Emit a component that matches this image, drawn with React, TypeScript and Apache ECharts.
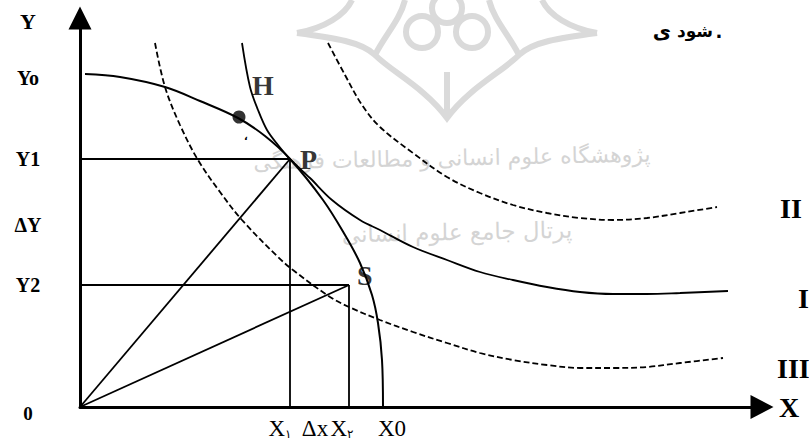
import React, { useEffect, useRef } from "react";
import * as echarts from "echarts";

// Data space: x 0..682, y 0..389 (origin at the axes' corner)
const ppfCurve: number[][] = [
  [5, 333], [40, 330], [85, 320], [120, 306], [158, 289], [185, 271], [210, 248],
  [243, 207], [265, 172], [280, 144], [292, 112], [298, 84], [302, 47], [303, 0],
];
const curveI: number[][] = [
  [162, 364], [170, 320], [178, 297], [187, 277], [198, 262], [210, 248], [230, 229],
  [252, 207], [280, 187], [300, 177], [333, 160], [367, 147], [400, 135], [433, 127],
  [467, 120], [500, 115], [533, 113], [567, 113], [600, 114], [648, 116],
];
const curveII: number[][] = [
  [248, 364], [265, 332], [282, 302], [300, 280], [333, 254], [367, 230], [400, 214],
  [433, 202], [467, 194], [500, 189], [533, 187], [567, 189], [600, 194], [637, 200],
];
const curveIII: number[][] = [
  [75, 364], [85, 320], [100, 282], [118, 247], [140, 215], [162, 187], [198, 150],
  [213, 137], [250, 110], [269, 100], [300, 87], [333, 75], [367, 64], [400, 54],
  [433, 47], [467, 42], [500, 39], [533, 39], [567, 40], [600, 44], [643, 49],
];
const pointP: number[] = [210, 248];
const pointS: number[] = [269, 122];
const pointH: number[] = [170, 320];
const pointDot: number[] = [159, 290];
const curveNames = ["I", "II", "III"];
const yTickValues = [386, 329, pointP[1], 182, pointS[1], 0];
const yTickLabels = ["Y", "Yo", "Y1", "ΔY", "Y2", "0"];
const xTickValues = [200, 235, 262, 312];
const xTickLabels = ["X۱", "Δx", "X۲", "X0"];

const SERIF = '"Liberation Serif", "DejaVu Serif", serif';
const ARABIC = '"DejaVu Sans", "Noto Sans", sans-serif';

const logoPath =
  "M297,33 C325,28 345,15 352,0 M297,33 C335,38 362,42 375,55 C392,72 425,88 447,118 " +
  "C469,88 502,72 519,55 C532,42 559,38 597,33 M597,33 C569,28 549,15 542,0 " +
  "M375,55 C385,35 400,20 405,0 M519,55 C509,35 494,20 489,0 " +
  "M406,32 A16,16 0 1,0 438,32 A16,16 0 1,0 406,32 " +
  "M456,32 A16,16 0 1,0 488,32 A16,16 0 1,0 456,32 " +
  "M432,8 A15,15 0 1,0 462,8 A15,15 0 1,0 432,8 M447,118 L447,72";

let registered = false;

export default function App() {
  const ref = useRef<HTMLDivElement>(null);
  useEffect(() => {
    if (!ref.current) return;
    if (!registered) {
      echarts.graphic.registerShape("logo", echarts.graphic.extendPath(logoPath, {}));
      registered = true;
    }
    const chart = echarts.init(ref.current, null, { renderer: "svg" });

    const guideSegments: number[][][] = [
      [[0, 0], pointP],
      [[0, 0], pointS],
      [[0, pointP[1]], pointP],
      [pointP, [pointP[0], 0]],
      [[0, pointS[1]], pointS],
      [pointS, [pointS[0], 0]],
    ];

    const solid = { color: "#000", width: 2 };
    const dashed = { color: "#000", width: 1.8, type: [6, 3] as any };
    const endLabel = (text: string, offset: number[]) => ({
      show: true,
      formatter: text,
      distance: 0,
      offset,
      color: "#000",
      fontFamily: SERIF,
      fontWeight: "bold",
      fontSize: 28,
    });

    const yLabelMap: Record<number, string> = {};
    yTickValues.forEach((v, i) => (yLabelMap[v] = yTickLabels[i]));
    const xLabelMap: Record<number, string> = {};
    xTickValues.forEach((v, i) => (xLabelMap[v] = xTickLabels[i]));

    const persianWord = (text: string, x: number, size: number) => ({
      type: "text",
      x,
      y: 31,
      style: {
        text,
        fill: "#000",
        font: `bold ${size}px ${ARABIC}`,
        align: "center",
        verticalAlign: "middle",
      },
    });

    const option: any = {
      animation: false,
      backgroundColor: "#fff",
      grid: { left: 80, top: 18, right: 47, bottom: 40 },
      xAxis: {
        type: "value",
        min: 0,
        max: 682,
        splitLine: { show: false },
        axisTick: { show: false },
        axisLine: {
          show: true,
          lineStyle: { color: "#000", width: 3 },
          symbol: ["none", "triangle"],
          symbolSize: [24, 23],
        },
        name: "X",
        nameLocation: "end",
        nameGap: 17,
        nameTextStyle: {
          color: "#000",
          fontFamily: SERIF,
          fontWeight: "bold",
          fontSize: 28,
          align: "left",
          verticalAlign: "middle",
          padding: [8, 0, 0, 0],
        },
        axisLabel: {
          customValues: xTickValues,
          margin: 10,
          color: "#000",
          fontFamily: SERIF,
          fontSize: 23,
          formatter: (v: number) => {
            const t = xLabelMap[v] || "";
            if (t.length === 2 && /[۱۲]/.test(t[1])) return `{m|${t[0]}}{s|${t[1]}}`;
            return `{m|${t}}`;
          },
          rich: {
            m: { fontFamily: SERIF, fontSize: 23, color: "#000" },
            s: { fontFamily: ARABIC, fontSize: 12, color: "#000", padding: [10, 0, 0, 0] },
          },
        },
      },
      yAxis: {
        type: "value",
        min: 0,
        max: 389,
        splitLine: { show: false },
        axisTick: { show: false },
        axisLine: {
          show: true,
          lineStyle: { color: "#000", width: 3 },
          symbol: ["none", "triangle"],
          symbolSize: [23, 23],
        },
        axisLabel: {
          customValues: yTickValues,
          margin: 52,
          align: "center",
          color: "#000",
          fontFamily: SERIF,
          fontWeight: "bold",
          fontSize: 20,
          formatter: (v: number) => {
            const t = yLabelMap[v] || "";
            if (t === "Y") return `{big|Y}`;
            if (t === "0") return `{zero|0}`;
            return `{n|${t}}`;
          },
          rich: {
            n: { fontFamily: SERIF, fontWeight: "bold", fontSize: 20, color: "#000" },
            big: { fontFamily: SERIF, fontWeight: "bold", fontSize: 22, color: "#000" },
            zero: { fontFamily: SERIF, fontWeight: "bold", fontSize: 19, color: "#000", padding: [12, 0, 0, 0] },
          },
        },
      },
      graphic: [
        {
          type: "logo",
          x: 0,
          y: 0,
          z: -10,
          silent: true,
          style: { fill: "none", stroke: "#dadada", lineWidth: 6 },
        },
        {
          type: "text",
          x: 452,
          y: 158,
          rotation: 0.02,
          z: -10,
          silent: true,
          style: {
            text: "پژوهشگاه علوم انسانی و مطالعات فرهنگی",
            fill: "#d4d4d4",
            font: `22px ${ARABIC}`,
            align: "center",
            verticalAlign: "middle",
          },
        },
        {
          type: "text",
          x: 457,
          y: 232,
          rotation: 0.02,
          z: -10,
          silent: true,
          style: {
            text: "پرتال جامع علوم انسانی",
            fill: "#d4d4d4",
            font: `23px ${ARABIC}`,
            align: "center",
            verticalAlign: "middle",
          },
        },
        persianWord("ی", 662, 20),
        persianWord("شود", 695, 17),
        persianWord(".", 719, 18),
        {
          type: "text",
          x: 246,
          y: 136,
          style: {
            text: "،",
            fill: "#000",
            font: `bold 10px ${ARABIC}`,
            align: "center",
            verticalAlign: "middle",
          },
        },
      ],
      series: [
        {
          name: "PPF",
          type: "line",
          data: ppfCurve,
          smooth: 0.35,
          showSymbol: false,
          silent: true,
          lineStyle: solid,
        },
        {
          name: curveNames[0],
          type: "line",
          data: curveI,
          smooth: 0.35,
          showSymbol: false,
          silent: true,
          lineStyle: { ...solid, width: 1.8 },
          endLabel: endLabel(curveNames[0], [70, 7]),
        },
        {
          name: curveNames[1],
          type: "line",
          data: curveII,
          smooth: 0.35,
          showSymbol: false,
          silent: true,
          lineStyle: dashed,
          endLabel: endLabel(curveNames[1], [63, 1]),
        },
        {
          name: curveNames[2],
          type: "line",
          data: curveIII,
          smooth: 0.35,
          showSymbol: false,
          silent: true,
          lineStyle: dashed,
          endLabel: endLabel(curveNames[2], [54, 10]),
        },
        ...guideSegments.map((seg, i) => ({
          name: "guide" + i,
          type: "line",
          data: seg,
          showSymbol: false,
          silent: true,
          lineStyle: { color: "#000", width: 1.8 },
        })),
        {
          name: "dot",
          type: "scatter",
          data: [pointDot],
          symbolSize: 13,
          silent: true,
          itemStyle: { color: "#000" },
        },
        {
          name: "pointLabels",
          type: "scatter",
          symbolSize: 0,
          silent: true,
          data: [
            { name: "H", value: pointH, label: { offset: [0, -2] } },
            { name: "P", value: pointP, label: { offset: [8, 0] } },
            { name: "S", value: pointS, label: { offset: [6, -10] } },
          ],
          label: {
            show: true,
            position: "right",
            distance: 2,
            formatter: "{b}",
            color: "#000",
            fontFamily: SERIF,
            fontWeight: "bold",
            fontSize: 28,
          },
        },
      ],
    };
    chart.setOption(option);
    return () => chart.dispose();
  }, []);
  return (
    <div
      ref={ref}
      style={{ position: "absolute", left: 0, top: 0, width: 809, height: 447, background: "#fff" }}
    />
  );
}
